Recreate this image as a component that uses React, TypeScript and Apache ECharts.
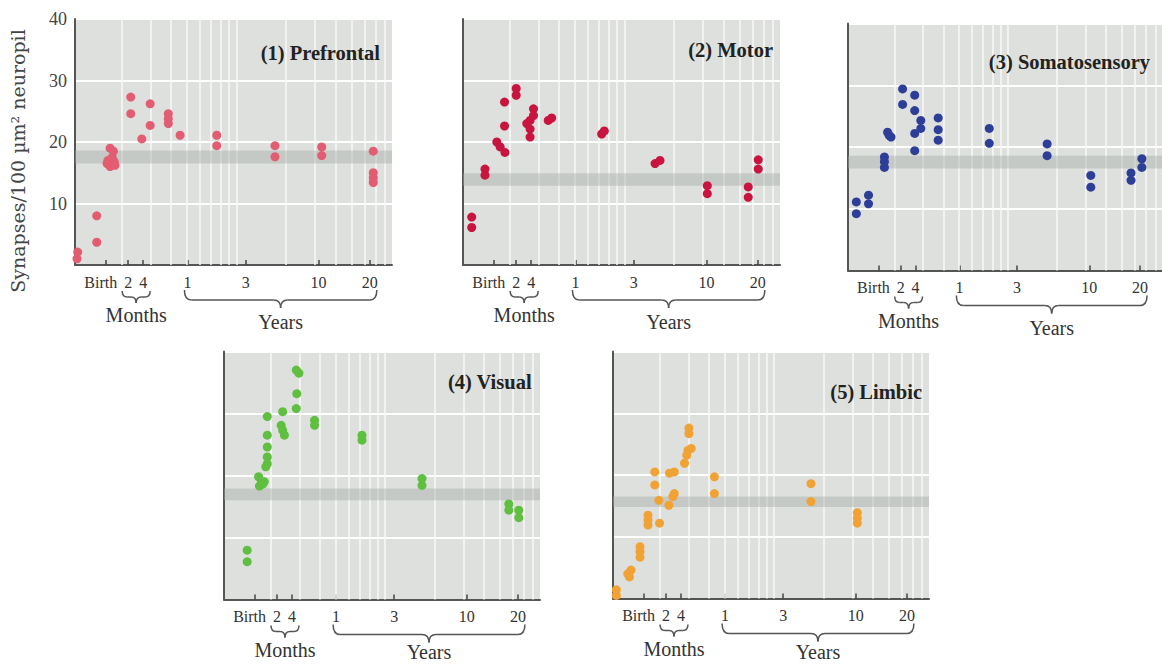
import React, { useEffect, useRef } from "react";
import * as echarts from "echarts";

// ---------- data ----------
// x axis: log-paper age scale of the original figure (axis units), y: synapses / 100 µm² neuropil
const AGE_TICKS = [161, 219, 270, 502, 1135, 3150, 6450];
const AGE_TICK_LABELS = ["Birth", "2", "4", "1", "3", "10", "20"];
const LOG_PAPER_LINES = [200, 300, 400, 500, 600, 700, 800, 900, 1000, 2000, 3000, 4000, 5000, 6000, 7000, 8000];
const X_MIN = 104;
const X_MAX = 8800;
const Y_TICKS = [0, 10, 20, 30, 40];

const PANEL_TITLES = ["(1) Prefrontal", "(2) Motor", "(3) Somatosensory", "(4) Visual", "(5) Limbic"];

const PREFRONTAL_AGE = [108, 107, 141, 141, 170, 178, 175, 165, 180, 170, 182, 163, 227, 227, 265, 298, 298, 384, 384, 384, 453, 757, 757, 1710, 1710, 3290, 3290, 6770, 6770, 6770, 6770];
const PREFRONTAL_SYN = [2.1, 1.0, 8.0, 3.7, 19.0, 18.5, 17.5, 17.0, 16.8, 16.0, 16.2, 16.5, 27.3, 24.6, 20.5, 26.2, 22.7, 24.6, 23.8, 23.0, 21.1, 21.1, 19.4, 19.4, 17.6, 19.2, 17.8, 18.5, 15.0, 14.2, 13.4];

const MOTOR_AGE = [117.5, 117.5, 141.5, 141.5, 167, 175, 187, 186, 186, 219, 219, 254, 266, 266, 279, 279, 266, 343, 360, 725, 752, 1530, 1640, 3180, 3180, 5640, 5640, 6490, 6490];
const MOTOR_SYN = [7.8, 6.1, 15.6, 14.6, 20.0, 19.2, 18.3, 26.5, 22.6, 28.7, 27.6, 23.0, 23.5, 20.8, 25.4, 24.3, 22.1, 23.5, 23.9, 21.3, 21.8, 16.5, 17.0, 12.9, 11.6, 12.7, 11.0, 17.1, 15.6];

const SOMATO_AGE = [117, 117, 139, 139, 174, 174, 174, 182, 191, 186, 225, 225, 267, 267, 267, 267, 291, 291, 372, 372, 372, 766, 766, 1735, 1735, 3216, 3216, 5680, 5680, 6620, 6620];
const SOMATO_SYN = [11.1, 9.2, 12.2, 10.8, 18.4, 17.6, 16.7, 22.4, 21.6, 21.9, 29.4, 26.9, 28.4, 25.9, 22.2, 19.4, 24.3, 23.0, 24.7, 22.8, 21.1, 23.0, 20.6, 20.5, 18.6, 15.4, 13.5, 15.8, 14.6, 18.1, 16.7];

const VISUAL_AGE = [144, 144, 169, 176, 183, 171, 179, 191, 191, 191, 191, 191, 187, 237, 232, 237, 243, 287, 298, 289, 287, 371, 371, 722, 722, 1678, 1678, 5680, 5680, 6535, 6535];
const VISUAL_SYN = [7.95, 6.1, 19.8, 19.0, 19.0, 18.3, 18.6, 29.5, 26.5, 24.6, 23.0, 21.9, 21.4, 30.3, 28.1, 27.3, 26.5, 37.0, 36.5, 33.2, 30.8, 28.9, 28.1, 26.5, 25.7, 19.5, 18.4, 15.4, 14.4, 14.4, 13.2];

const LIMBIC_AGE = [109, 109, 128, 131, 134, 152, 152, 152, 170, 170, 170, 200, 187, 187, 198, 228, 230, 246, 241, 246, 284, 298, 312, 302, 302, 293, 432, 432, 1678, 1678, 3216, 3216, 3216];
const LIMBIC_SYN = [1.4, 0.5, 4.0, 3.5, 4.6, 8.4, 7.6, 6.7, 13.5, 12.7, 11.9, 12.2, 20.5, 18.4, 15.9, 15.1, 20.3, 20.5, 16.5, 17.0, 21.9, 24.0, 24.3, 27.6, 26.7, 23.2, 19.7, 17.0, 18.6, 15.7, 13.9, 13.0, 12.2];

// adult level band (low, high) per panel
const ADULT_BAND_LOW = [16.5, 12.9, 16.5, 16.0, 14.8];
const ADULT_BAND_HIGH = [18.6, 14.9, 18.6, 17.9, 16.5];

const PANEL_AGES = [PREFRONTAL_AGE, MOTOR_AGE, SOMATO_AGE, VISUAL_AGE, LIMBIC_AGE];
const PANEL_SYN = [PREFRONTAL_SYN, MOTOR_SYN, SOMATO_SYN, VISUAL_SYN, LIMBIC_SYN];

// ---------- styling / layout ----------
const DOT_COLORS = ["#e25d72", "#c8143e", "#2d3e98", "#5fbf40", "#f1a234"];
const GRID_BOXES = [
  { left: 75, top: 19, width: 317, height: 246 },
  { left: 463, top: 19, width: 317, height: 246 },
  { left: 848, top: 23.5, width: 317, height: 247 },
  { left: 224, top: 351.5, width: 316, height: 248 },
  { left: 613, top: 351.5, width: 316, height: 247 },
];
const TITLE_POS = [
  { right: 782, top: 42 },
  { right: 389, top: 39 },
  { right: 12, top: 51 },
  { right: 630, top: 371 },
  { right: 240, top: 381 },
];
const SERIF = "'Liberation Serif', 'Times New Roman', serif";

function tickLabel(v: number): string {
  for (let j = 0; j < AGE_TICKS.length; j++) {
    if (Math.abs(Math.log(v / AGE_TICKS[j])) < 0.02) {
      return j === 0 ? "{b|" + AGE_TICK_LABELS[j] + "}" : AGE_TICK_LABELS[j];
    }
  }
  return "";
}

export default function App() {
  const ref = useRef<HTMLDivElement>(null);

  useEffect(() => {
    if (!ref.current) return;
    const chart = echarts.init(ref.current, null, { renderer: "svg" });

    const grids = GRID_BOXES.map((g) => ({
      left: g.left,
      top: g.top,
      width: g.width,
      height: g.height,
      show: true,
      backgroundColor: "#dde0dc",
      borderWidth: 0,
    }));

    const xAxes = GRID_BOXES.map((_, i) => ({
      gridIndex: i,
      type: "log",
      logBase: 10,
      min: X_MIN,
      max: X_MAX,
      axisLine: { show: true, onZero: false, lineStyle: { color: "#555", width: 2 } },
      axisTick: { show: true, inside: true, length: 5, customValues: AGE_TICKS, lineStyle: { color: "#444", width: 1.5 } },
      axisLabel: {
        show: true,
        customValues: AGE_TICKS,
        formatter: (v: number) => tickLabel(v),
        margin: 9,
        fontFamily: SERIF,
        fontSize: 16,
        color: "#333",
        rich: { b: { fontFamily: SERIF, fontSize: 16, color: "#333", padding: [0, 11, 0, 0] } },
      },
      splitLine: { show: false },
      minorTick: { show: false },
      minorSplitLine: { show: false },
    }));

    const yAxes = GRID_BOXES.map((_, i) => ({
      gridIndex: i,
      type: "value",
      min: Y_TICKS[0],
      max: Y_TICKS[Y_TICKS.length - 1],
      interval: 10,
      axisLine: { show: true, lineStyle: { color: "#555", width: 2 } },
      axisTick: { show: false },
      axisLabel: {
        show: i === 0,
        formatter: (v: number) => (v === 0 ? "" : String(v)),
        margin: 8,
        fontFamily: SERIF,
        fontSize: 18,
        color: "#444",
      },
      splitLine: { show: true, lineStyle: { color: "#ffffff", width: 2 } },
    }));

    const series = PANEL_AGES.map((ages, i) => ({
      type: "scatter",
      xAxisIndex: i,
      yAxisIndex: i,
      data: ages.map((a, k) => [a, PANEL_SYN[i][k]]),
      symbolSize: 9,
      itemStyle: { color: DOT_COLORS[i], opacity: 1 },
      z: 3,
      silent: true,
      markLine: {
        silent: true,
        z: 1,
        symbol: ["none", "none"],
        label: { show: false },
        emphasis: { disabled: true },
        lineStyle: { color: "#f8f9f7", width: 1.5, type: "solid" },
        data: LOG_PAPER_LINES.map((v) => ({ xAxis: v })),
      },
      markArea: {
        silent: true,
        z: 2,
        label: { show: false },
        emphasis: { disabled: true },
        itemStyle: { color: "rgba(165,170,165,0.42)" },
        data: [[{ yAxis: ADULT_BAND_LOW[i] }, { yAxis: ADULT_BAND_HIGH[i] }]],
      },
    }));

    const titles = PANEL_TITLES.map((t, i) => ({
      text: t,
      right: TITLE_POS[i].right,
      top: TITLE_POS[i].top,
      padding: 0,
      textStyle: { fontFamily: SERIF, fontWeight: "bold", fontSize: 20.5, color: "#222" },
    }));

    chart.setOption({
      animation: false,
      backgroundColor: "#ffffff",
      title: titles,
      grid: grids,
      xAxis: xAxes,
      yAxis: yAxes,
      series,
    });

    // braces, "Months"/"Years" captions, y-axis title — positioned from the axis scales
    const stroke = { stroke: "#555", lineWidth: 1.5, fill: "none" };
    const brace = (x1: number, x2: number, yTop: number, yMid: number, yTip: number, r: number) => {
      const xc = (x1 + x2) / 2;
      return [
        { type: "bezierCurve", shape: { x1: x1, y1: yTop, cpx1: x1, cpy1: yMid, x2: x1 + r, y2: yMid }, style: stroke },
        { type: "line", shape: { x1: x1 + r, y1: yMid, x2: xc - r, y2: yMid }, style: stroke },
        { type: "bezierCurve", shape: { x1: xc - r, y1: yMid, cpx1: xc, cpy1: yMid, x2: xc, y2: yTip }, style: stroke },
        { type: "bezierCurve", shape: { x1: xc, y1: yTip, cpx1: xc, cpy1: yMid, x2: xc + r, y2: yMid }, style: stroke },
        { type: "line", shape: { x1: xc + r, y1: yMid, x2: x2 - r, y2: yMid }, style: stroke },
        { type: "bezierCurve", shape: { x1: x2 - r, y1: yMid, cpx1: x2, cpy1: yMid, x2: x2, y2: yTop }, style: stroke },
      ];
    };

    const elements: any[] = [];
    GRID_BOXES.forEach((_, i) => {
      const px = (v: number) => chart.convertToPixel({ xAxisIndex: i, yAxisIndex: i } as any, [v, 0]) as number[];
      const t2 = px(AGE_TICKS[1]);
      const t4 = px(AGE_TICKS[2]);
      const t1y = px(AGE_TICKS[3]);
      const t20 = px(AGE_TICKS[6]);
      const bottom = t2[1];
      const m1 = t2[0] - 6;
      const m2 = t4[0] + 7;
      elements.push(...brace(m1, m2, bottom + 26, bottom + 32, bottom + 38, 5));
      elements.push({
        type: "text",
        x: (m1 + m2) / 2,
        y: Math.min(bottom + 50, 652),
        style: { text: "Months", fontFamily: SERIF, fontSize: 20, fill: "#333", align: "center", verticalAlign: "middle" },
      });
      const y1 = t1y[0] - 3;
      const y2 = t20[0] + 7;
      elements.push(...brace(y1, y2, bottom + 25, bottom + 35, bottom + 43, 7));
      elements.push({
        type: "text",
        x: (y1 + y2) / 2,
        y: Math.min(bottom + 57, 652),
        style: { text: "Years", fontFamily: SERIF, fontSize: 20, fill: "#333", align: "center", verticalAlign: "middle" },
      });
    });
    elements.push({
      type: "text",
      x: 18,
      y: 161,
      rotation: Math.PI / 2,
      style: {
        text: "Synapses/100 µm² neuropil",
        fontFamily: "'DejaVu Serif', serif",
        fontSize: 19,
        fill: "#444",
        align: "center",
        verticalAlign: "middle",
      },
    });

    chart.setOption({ graphic: { elements } });

    return () => {
      chart.dispose();
    };
  }, []);

  return (
    <div
      ref={ref}
      style={{ position: "absolute", left: 0, top: 0, width: 1162, height: 664, background: "#fff" }}
    />
  );
}
